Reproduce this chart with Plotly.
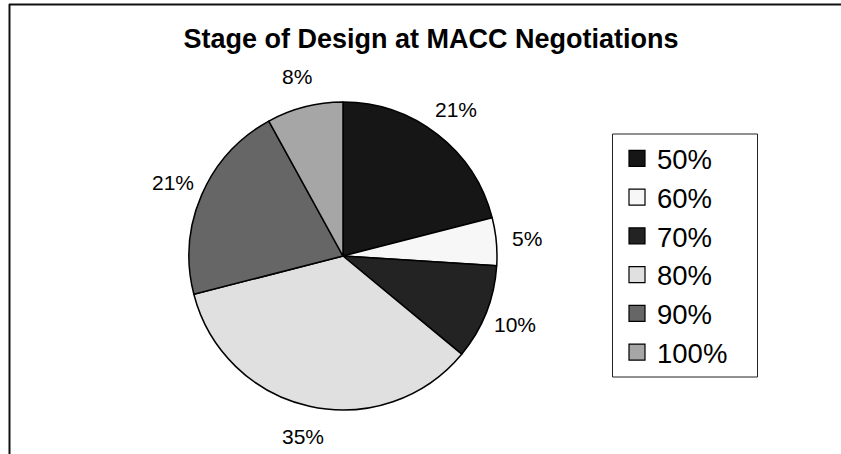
import math
import plotly.graph_objects as go

# Design-stage categories and their share of MACC negotiations (percent)
stages = ["50%", "60%", "70%", "80%", "90%", "100%"]
shares = [21, 5, 10, 35, 21, 8]
slice_colors = ["#161616", "#f7f7f7", "#232323", "#e0e0e0", "#666666", "#a6a6a6"]

W, H = 841, 454
CX, CY, R = 343, 256, 154          # pie centre and radius in pixels
LABEL_R = 185                       # radius at which percentage labels sit
FONT = "Liberation Sans, Arial, sans-serif"

fig = go.Figure()
fig.add_trace(go.Pie(
    labels=stages,
    values=shares,
    sort=False,
    direction="clockwise",
    rotation=0,
    textinfo="none",
    hoverinfo="label+percent",
    showlegend=False,
    marker=dict(
        colors=slice_colors,
        line=dict(color="#000000", width=1.5),
    ),
    domain=dict(x=[(CX - R) / W, (CX + R) / W],
                y=[1 - (CY + R) / H, 1 - (CY - R) / H]),
))

# Legend entries with larger square keys than the pie legend offers
for name, col in zip(stages, slice_colors):
    fig.add_trace(go.Scatter(
        x=[None], y=[None], mode="markers", name=name,
        marker=dict(symbol="square", size=16, color=col,
                    line=dict(color="#000", width=1.2)),
        hoverinfo="skip",
    ))

# Percentage labels placed around the pie at each slice's mid-angle
annotations = []
total = sum(shares)
cum = 0
for s in shares:
    mid = (cum + s / 2) / total * 2 * math.pi
    cum += s
    px = CX + LABEL_R * math.sin(mid)
    py = CY - LABEL_R * math.cos(mid)
    annotations.append(dict(
        x=px / W, y=1 - py / H, xref="paper", yref="paper",
        text=f"{s}%", showarrow=False, xanchor="center", yanchor="middle",
        font=dict(family=FONT, size=21, color="#000"),
    ))

# Chart frame (top and left edges) and the legend box
shapes = [
    dict(type="line", xref="paper", yref="paper",
         x0=9 / W, x1=1, y0=1 - 4.5 / H, y1=1 - 4.5 / H,
         line=dict(color="#111", width=2)),
    dict(type="line", xref="paper", yref="paper",
         x0=9.5 / W, x1=9.5 / W, y0=1 - 4 / H, y1=0,
         line=dict(color="#111", width=2)),
    dict(type="rect", xref="paper", yref="paper", layer="below",
         x0=612.5 / W, x1=757.5 / W, y0=1 - 377 / H, y1=1 - 134 / H,
         line=dict(color="#222", width=1), fillcolor="white"),
]

fig.update_layout(
    width=W, height=H,
    margin=dict(l=0, r=0, t=0, b=0),
    paper_bgcolor="white",
    plot_bgcolor="rgba(0,0,0,0)",
    xaxis=dict(visible=False),
    yaxis=dict(visible=False),
    title=dict(
        text="<b>Stage of Design at MACC Negotiations</b>",
        x=431 / W, xanchor="center", xref="paper",
        y=1 - 39 / H, yanchor="middle", yref="container",
        font=dict(family=FONT, size=27, color="#000"),
    ),
    legend=dict(
        x=617 / W, y=1 - 134 / H, xanchor="left", yanchor="top",
        borderwidth=0, bgcolor="rgba(0,0,0,0)",
        font=dict(family=FONT, size=27.5, color="#000"),
        traceorder="normal",
        itemsizing="trace",
    ),
    annotations=annotations,
    shapes=shapes,
)

fig.write_html("out.html")
